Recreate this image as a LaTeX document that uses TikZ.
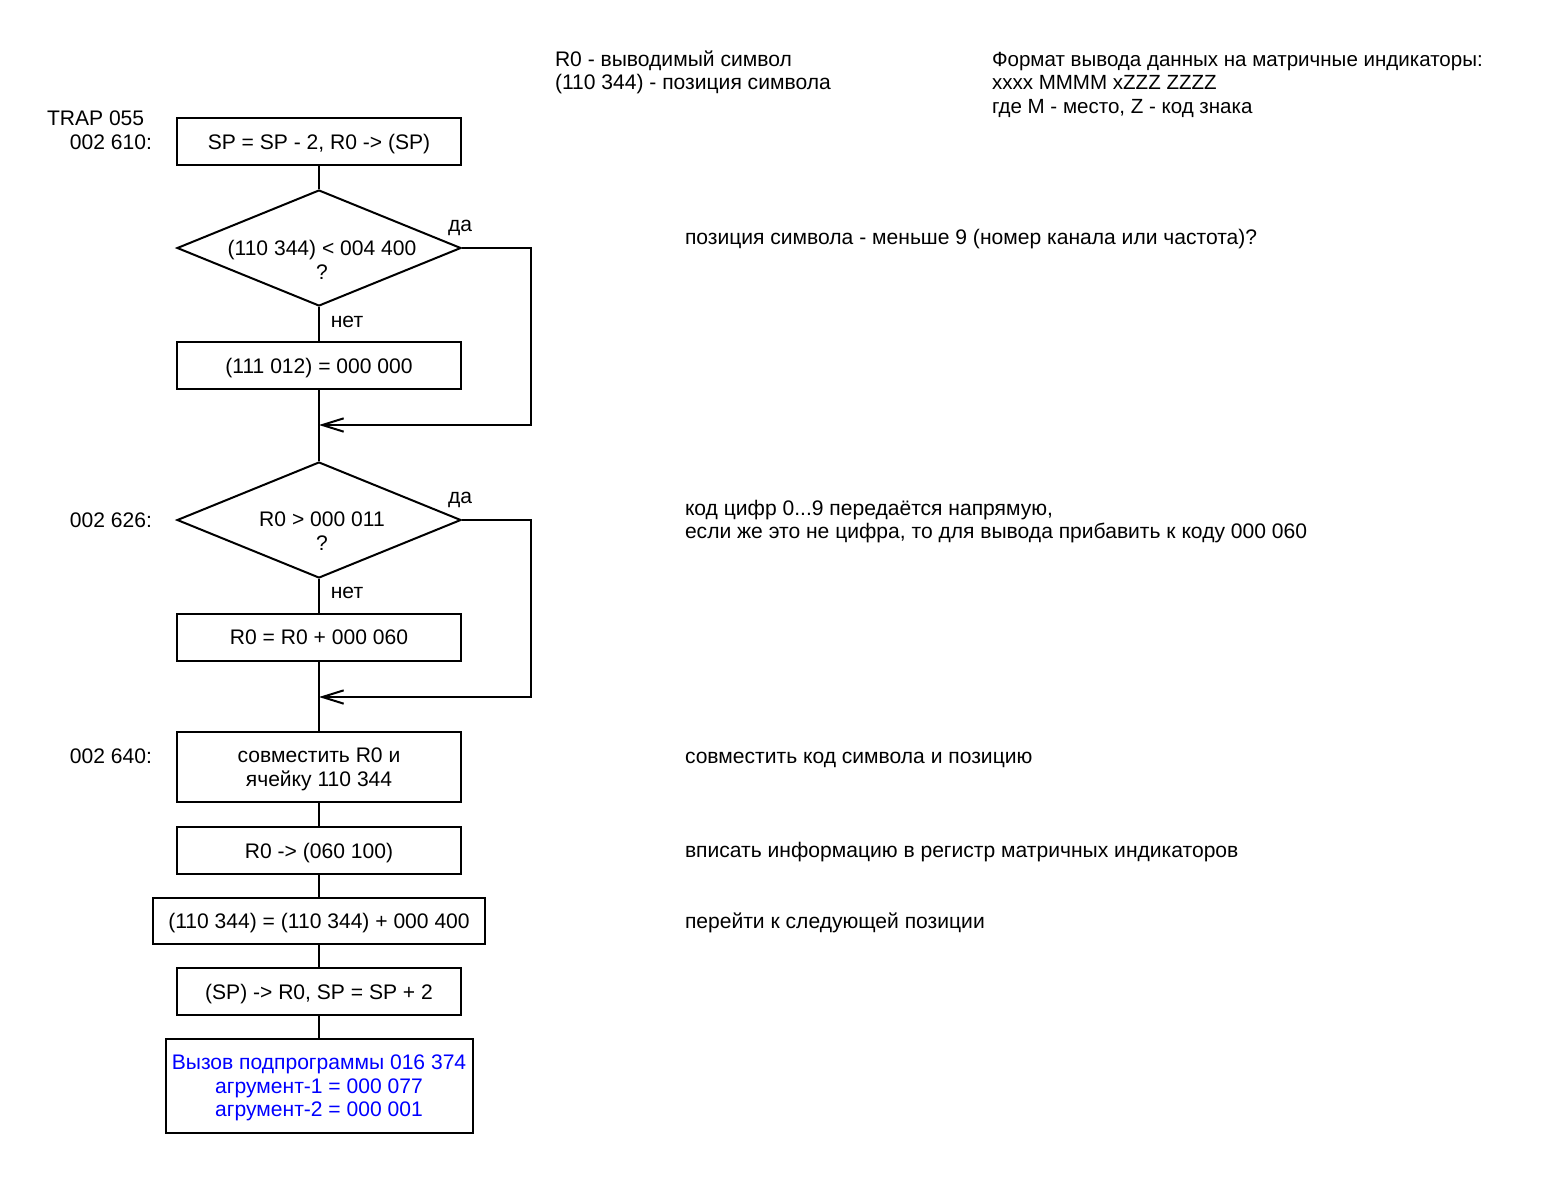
\documentclass[tikz,border=0pt]{standalone}
\usepackage{fontspec}
\setmainfont{Liberation Sans}
\usetikzlibrary{shapes.geometric,arrows.meta}
\definecolor{callblue}{RGB}{0,0,255}
\tikzset{
  every node/.style={font=\fontsize{15.8pt}{17.6pt}\selectfont},
  flowline/.style={line width=1.5pt},
  stepbox/.style={draw, line width=1.5pt, rectangle, minimum width=213pt, minimum height=35.25pt, inner sep=0pt, align=center, text depth=0pt},
  decide/.style={draw, line width=1.5pt, diamond, minimum width=213pt, minimum height=87pt, inner sep=0pt},
  plain/.style={inner sep=0pt, outer sep=0pt},
  note/.style={inner sep=0pt, outer sep=0pt, anchor=base west, align=left},
  merge/.style={-{Straight Barb[length=16pt,width=10pt,line width=1.5pt]}},
}
\begin{document}
\begin{tikzpicture}[x=0.75pt,y=-0.75pt]
\useasboundingbox (0,0) rectangle (1565,1193);

% boxes and decisions
\node[stepbox] (b1) at (319,141.5) {SP = SP - 2, R0 -> (SP)};
\node[decide] (d1) at (319,248) {};
\node[plain, align=center] (t1) at (322,260) {(110 344) < 004 400\\?};
\node[stepbox] (b2) at (319,365.5) {(111 012) = 000 000};
\node[decide] (d2) at (319,520) {};
\node[plain, align=center] (t2) at (322,531) {R0 > 000 011\\?};
\node[stepbox] (b3) at (319,637.5) {R0 = R0 + 000 060};
\node[stepbox, minimum height=52.5pt] (b4) at (319,767) {совместить R0 и\\ячейку 110 344};
\node[stepbox] (b5) at (319,850.5) {R0 -> (060 100)};
\node[stepbox, minimum width=249pt, minimum height=34.5pt] (b6) at (319,921) {(110 344) = (110 344) + 000 400};
\node[stepbox] (b7) at (319,991.5) {(SP) -> R0, SP = SP + 2};
\node[stepbox, minimum width=230.25pt, minimum height=70.5pt, text=callblue] (b8) at (319,1086) {Вызов подпрограммы 016 374\\агрумент-1 = 000 077\\агрумент-2 = 000 001};

\coordinate (m1) at (319,425);
\coordinate (m2) at (319,697);

% connectors
\draw[flowline] (b1.south) -- (d1.north);
\draw[flowline] (d1.south) -- (b2.north);
\draw[flowline] (b2.south) -- (d2.north);
\draw[flowline] (d2.south) -- (b3.north);
\draw[flowline] (b3.south) -- (b4.north);
\draw[flowline] (b4.south) -- (b5.north);
\draw[flowline] (b5.south) -- (b6.north);
\draw[flowline] (b6.south) -- (b7.north);
\draw[flowline] (b7.south) -- (b8.north);
\draw[flowline, merge] (d1.east) -- ++(69,0) |- (m1);
\draw[flowline, merge] (d2.east) -- ++(69,0) |- (m2);

% branch labels
\node[plain] (y1) at (460,228) {да};
\node[plain] (n1) at (347,322) {нет};
\node[plain] (y2) at (460,500) {да};
\node[plain] (n2) at (347,593) {нет};

% addresses
\node[plain, anchor=base west] (trap) at (47,125) {TRAP 055};
\node[plain, anchor=base east] (a1) at (152,149) {002 610:};
\node[plain, anchor=base east] (a2) at (152,527) {002 626:};
\node[plain, anchor=base east] (a3) at (152,763) {002 640:};

% comments (base = baseline of the last line)
\node[note] (c0) at (555,89.5) {R0 - выводимый символ\\(110 344) - позиция символа};
\node[note, font=\fontsize{15.4pt}{17.6pt}\selectfont] (c00) at (992,113) {Формат вывода данных на матричные индикаторы:\\xxxx MMMM xZZZ ZZZZ\\где M - место, Z - код знака};
\node[note] (c1) at (685,244) {позиция символа - меньше 9 (номер канала или частота)?};
\node[note] (c2) at (685,538.5) {код цифр 0...9 передаётся напрямую,\\если же это не цифра, то для вывода прибавить к коду 000 060};
\node[note] (c3) at (685,763) {совместить код символа и позицию};
\node[note] (c4) at (685,857) {вписать информацию в регистр матричных индикаторов};
\node[note] (c5) at (685,928) {перейти к следующей позиции};
\end{tikzpicture}
\end{document}
